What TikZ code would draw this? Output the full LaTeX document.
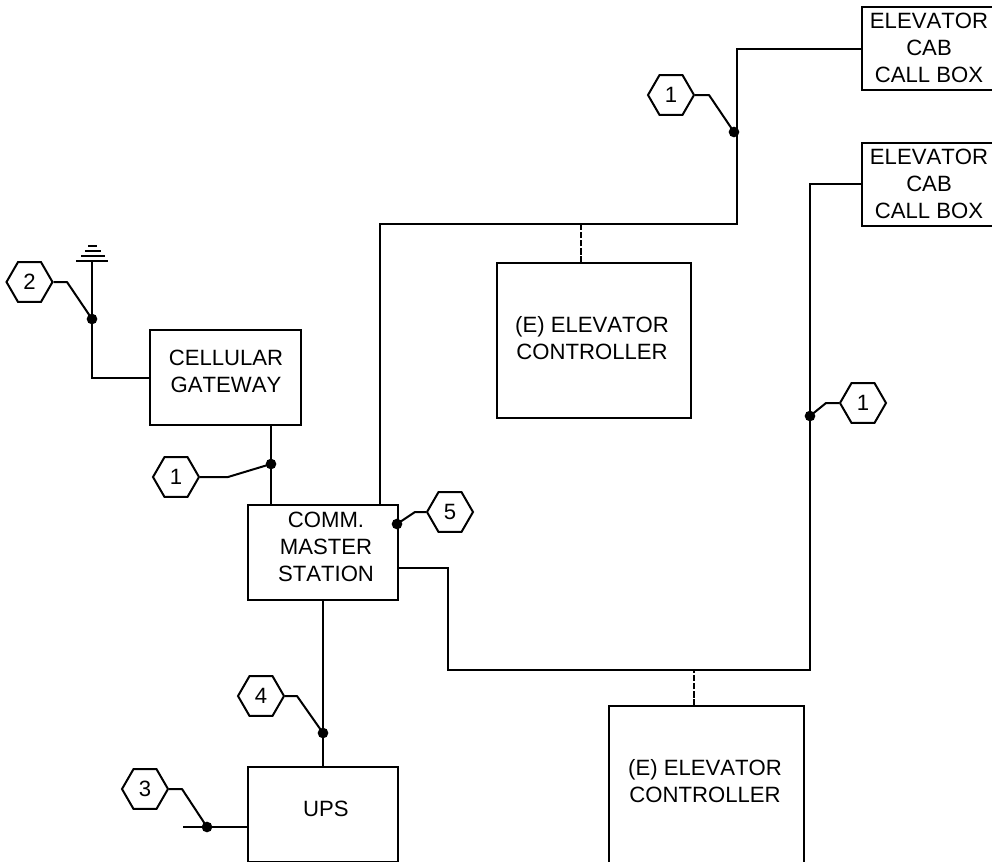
\documentclass[tikz,border=0pt]{standalone}
\usepackage{fontspec}
\setmainfont[Kerning=Off]{Liberation Sans}
\usetikzlibrary{shapes.geometric}
\tikzset{
  x=0.75pt,y=-0.75pt,
  wire/.style={draw=black,line width=1.5pt,line join=miter},
  dashwire/.style={draw=black,line width=1.5pt,dash pattern=on 5pt off 1.2pt},
  leader/.style={draw=black,line width=1.5pt,line join=round},
  devbox/.style={draw=black,line width=1.5pt,rectangle,inner sep=0pt},
  devtext/.style={inner sep=0pt,align=center,font=\fontsize{16.6}{20.4}\selectfont},
  hexa/.style={draw=black,line width=1.5pt,regular polygon,regular polygon sides=6,minimum size=34.5pt,inner sep=0pt,font=\fontsize{16.6}{20}\selectfont},
  jdot/.style={circle,fill=black,draw=none,minimum size=8pt,inner sep=0pt}
}
\begin{document}
\begin{tikzpicture}
\useasboundingbox (0,0) rectangle (992,861);
\clip (0,0) rectangle (992,861);
% boxes
\node[devbox,minimum width=138pt*0.75,minimum height=83pt*0.75] (cab1) at (931,48.5) {};
\node[devbox,minimum width=138pt*0.75,minimum height=83pt*0.75] (cab2) at (931,184) {};
\node[devbox,minimum width=194pt*0.75,minimum height=155pt*0.75] (ctl1) at (594,340.5) {};
\node[devbox,minimum width=195pt*0.75,minimum height=164pt*0.75] (ctl2) at (706.5,788) {};
\node[devbox,minimum width=151pt*0.75,minimum height=95pt*0.75] (gw) at (225.5,377.5) {};
\node[devbox,minimum width=150pt*0.75,minimum height=95pt*0.75] (mast) at (323,552.5) {};
\node[devbox,minimum width=150pt*0.75,minimum height=94.5pt*0.75] (ups) at (323,814.25) {};
% box texts
\node[devtext] (tcab1) at (929,48) {ELEVATOR\\CAB\\CALL BOX};
\node[devtext] (tcab2) at (929,184) {ELEVATOR\\CAB\\CALL BOX};
\node[devtext] (tctl1) at (592,338) {(E) ELEVATOR\\CONTROLLER};
\node[devtext] (tctl2) at (705,781) {(E) ELEVATOR\\CONTROLLER};
\node[devtext] (tgw) at (226,371) {CELLULAR\\GATEWAY};
\node[devtext] (tmast) at (326,547) {COMM.\\MASTER\\STATION};
\node[devtext] (tups) at (326,809) {UPS};
% junction dots
\node[jdot] (j1a) at (734,132) {};
\node[jdot] (j1b) at (810,416) {};
\node[jdot] (j1c) at (271,464) {};
\node[jdot] (j2) at (92,319) {};
\node[jdot] (j3) at (207,827) {};
\node[jdot] (j4) at (323,733) {};
\node[jdot] (j5) at (397,524) {};
% hexagons
\node[hexa] (h1a) at (671,95) {1};
\node[hexa] (h1b) at (863,403) {1};
\node[hexa] (h1c) at (176,477) {1};
\node[hexa] (h2) at (29.5,282) {2};
\node[hexa] (h3) at (145,789) {3};
\node[hexa] (h4) at (261,696) {4};
\node[hexa] (h5) at (450,512) {5};
% free coordinates
\coordinate (ant) at (92,261);
\coordinate (w3) at (183,827);
\coordinate (up1) at (380,224);
\coordinate (up2) at (737,224);
\coordinate (low1) at (448,670);
\coordinate (low2) at (810,670);
\coordinate (dash1) at (581,263);
\coordinate (dash2) at (694,706);
% wires
\draw[wire] (ant) -- (ant |- gw.west) -- (gw.west);
\draw[wire] (j1c |- gw.south) -- (j1c |- mast.north);
\draw[wire] (mast.south) -- (ups.north);
\draw[wire] (w3) -- (w3 -| ups.west);
\draw[wire] (up1 |- mast.north) -- (up1) -- (up2) -- (up2 |- cab1.west) -- (cab1.west);
\draw[wire] (mast.east |- 0,568) -- (low1 |- 0,568) -- (low1) -- (low2) -- (low2 |- cab2.west) -- (cab2.west);
\draw[dashwire] (dash1) -- (dash1 |- up1);
\draw[dashwire] (dash2) -- (dash2 |- low1);
% antenna bars
\draw[wire] (76,261) -- (108,261);
\draw[wire] (81,256) -- (105,256);
\draw[wire] (85,251) -- (101,251);
\draw[wire] (88,245.5) -- (97,245.5);
% leaders
\draw[leader] (h1a.east) -- (709,95) -- (j1a.center);
\draw[leader] (h1b.west) -- (826,403) -- (j1b.center);
\draw[leader] (h1c.east) -- (228,477) -- (j1c.center);
\draw[leader] (h2.east) -- (67,282) -- (j2.center);
\draw[leader] (h3.east) -- (182,789) -- (j3.center);
\draw[leader] (h4.east) -- (297,696) -- (j4.center);
\draw[leader] (h5.west) -- (415,512) -- (j5.center);
\end{tikzpicture}
\end{document}
